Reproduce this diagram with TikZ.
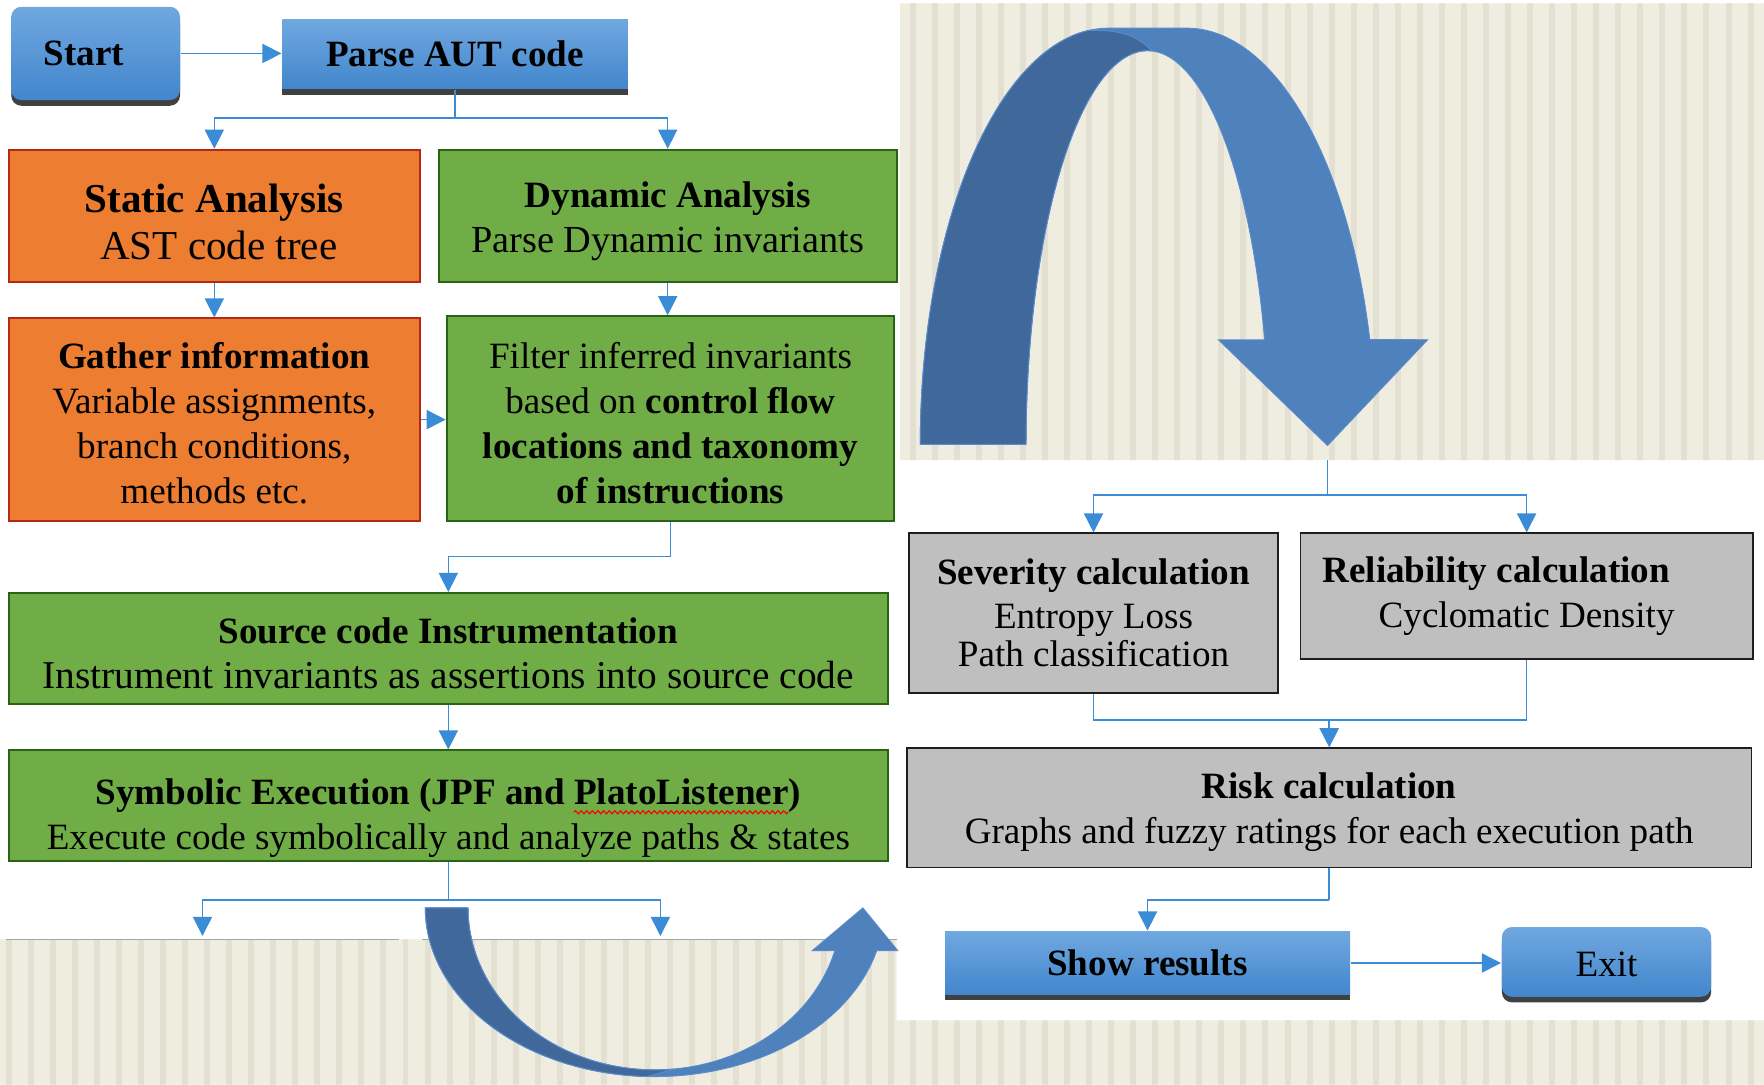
\documentclass[tikz,border=0pt]{standalone}
\usepackage{fontspec}
\setmainfont{Liberation Serif}
\usetikzlibrary{arrows.meta,shadows,decorations.pathmorphing,calc}

\definecolor{lnblue}{RGB}{58,140,214}
\definecolor{orgfill}{RGB}{237,125,49}
\definecolor{orgline}{RGB}{180,40,20}
\definecolor{grnfill}{RGB}{112,173,71}
\definecolor{grnline}{RGB}{40,100,20}
\definecolor{gryfill}{RGB}{191,191,191}
\definecolor{gryline}{RGB}{30,30,30}
\definecolor{bluetop}{RGB}{112,168,224}
\definecolor{bluebot}{RGB}{66,134,204}
\definecolor{arrdark}{RGB}{64,104,154}
\definecolor{arrlight}{RGB}{79,129,189}
\definecolor{arredge}{RGB}{90,140,205}
\definecolor{bgbeige}{RGB}{239,236,224}
\definecolor{bgstripe}{RGB}{227,224,209}

\newcommand{\tup}[1]{\rule{0pt}{#1pt}}

\begin{document}
\begin{tikzpicture}[x=1pt,y=-1pt,
  font=\fontsize{33}{40}\selectfont,
  line/.style={draw=lnblue,line width=1.4pt},
  conn/.style={line,-{Triangle[width=17pt,length=17pt]}},
  box/.style={align=center,inner sep=0pt,line width=1.6pt},
  orangebox/.style={box,draw=orgline,fill=orgfill},
  greenbox/.style={box,draw=grnline,fill=grnfill},
  graybox/.style={box,draw=gryline,fill=gryfill,line width=1.4pt},
  bluebox/.style={box,top color=bluetop,bottom color=bluebot,draw=none,
    drop shadow={shadow xshift=0pt,shadow yshift=-5pt,fill=black!75,opacity=1}},
  bigarrlight/.style={fill=arrlight,draw=arredge,line width=0.8pt},
  bigarrdark/.style={fill=arrdark,draw=arredge,line width=0.8pt}
  ]
\useasboundingbox (0,0) rectangle (1568,964);
\fill[white] (0,0) rectangle (1568,964);

% striped background regions
\begin{scope}
\clip (800,3) rectangle (1568,409) (0,835) rectangle (797,964) (795,907) rectangle (1568,964);
\fill[bgbeige] (0,0) rectangle (1568,964);
\foreach \i in {0,...,80} \fill[bgstripe] ({\i*19.6+5},0) rectangle ++(5.3,964);
\end{scope}
\draw[gray!70,line width=1.2pt] (5,835) -- (355,835) (375,835) -- (797,835);

% big curved arrow (top right)
\path[bigarrlight] plot[domain=180:90,samples=50] ({985+167*cos(\x)},{395-370*sin(\x)})
  -- plot[domain=90:14.6,samples=50] ({1055+168*cos(\x)},{395-370*sin(\x)})
  -- (1269,302) -- (1180,396) -- (1083,302)
  -- plot[domain=15.4:180,samples=60] ({1020+108*cos(\x)},{395-350*sin(\x)}) -- cycle;
\path[bigarrdark] plot[domain=180:96,samples=50] ({985+167*cos(\x)},{395-370*sin(\x)})
  .. controls (995,26) and (1012,32) .. ({1020+108*cos(88)},{395-350*sin(88)})
  -- plot[domain=88:180,samples=40] ({1020+108*cos(\x)},{395-350*sin(\x)}) -- cycle;

% big curved arrow (bottom)
\path[bigarrlight] plot[domain=180:14.7,samples=60] ({582+204*cos(\x)},{807+150*sin(\x)})
  -- (798,845) -- (767,807) -- (722,845)
  -- plot[domain=15.3:180,samples=60] ({582+166*cos(\x)},{807+144*sin(\x)}) -- cycle;
\path[bigarrdark] plot[domain=180:92,samples=40] ({582+204*cos(\x)},{807+150*sin(\x)})
  -- plot[domain=84:180,samples=40] ({582+166*cos(\x)},{807+144*sin(\x)}) -- cycle;

% nodes
\node[bluebox,rounded corners=9pt,minimum width=150pt,minimum height=83pt] (start) at (85,47.5) {\bfseries Start\hspace*{21pt}};
\node[bluebox,minimum width=307pt,minimum height=62pt] (parse) at (404.5,48) {\bfseries Parse AUT code};
\node[orangebox,minimum width=365pt,minimum height=118pt,font=\fontsize{36.5}{42}\selectfont] (static) at (190.5,192) {\tup{36}\bfseries Static Analysis\\AST code tree\hspace*{-8pt}};
\node[greenbox,minimum width=407pt,minimum height=118pt] (dynamic) at (593.5,192) {\tup{33}\bfseries Dynamic Analysis\\{\fontsize{34}{40}\selectfont Parse Dynamic invariants}};
\node[orangebox,minimum width=365pt,minimum height=180pt] (gather) at (190.5,373) {\tup{30}\bfseries Gather information\\Variable assignments,\\branch conditions,\\methods etc.};
\node[greenbox,minimum width=398pt,minimum height=182pt] (filter) at (596,372) {\tup{31}Filter inferred invariants\\based on \textbf{control flow}\\\textbf{locations and taxonomy}\\\textbf{of instructions}};
\node[greenbox,minimum width=781pt,minimum height=99pt] (source) at (398.5,576.5) {\tup{31}\bfseries Source code Instrumentation\\{\fontsize{35}{40}\selectfont Instrument invariants as assertions into source code}};
\node[greenbox,minimum width=781pt,minimum height=98pt] (symb) at (398.5,716) {\tup{46}\bfseries Symbolic Execution (JPF and PlatoListener)\\Execute code symbolically and analyze paths \& states};
\draw[red,line width=1pt,decorate,decoration={snake,amplitude=1.4pt,segment length=5pt}] (510,722) -- (701,722);

\node[graybox,minimum width=328pt,minimum height=142pt] (severity) at (972,545) {\bfseries Severity calculation\\[-1pt]Entropy Loss\\[-6pt]Path classification};
\node[graybox,minimum width=402pt,minimum height=112pt] (reliab) at (1357,530) {\bfseries Reliability calculation\hspace*{54pt}\\Cyclomatic Density};
\node[graybox,minimum width=751pt,minimum height=106pt] (risk) at (1181.5,718) {\tup{31}\bfseries Risk calculation\\Graphs and fuzzy ratings for each execution path};
\node[bluebox,minimum width=360pt,minimum height=56pt] (show) at (1020,856) {\bfseries Show results};
\node[bluebox,rounded corners=9pt,minimum width=186pt,minimum height=62pt] (exit) at (1428,855) {\tup{27}Exit};

% connectors
\draw[conn] (start.east) -- (start.east -| parse.west);
\coordinate (j1) at (404.5,105);
\draw[line] (parse.south) -- (j1);
\draw[conn] (j1) -| (static.north);
\draw[conn] (j1) -| (dynamic.north);
\draw[conn] (static) -- (gather);
\draw[conn] (dynamic.south) -- (dynamic.south |- filter.north);
\draw[conn] (gather.east) -- (gather.east -| filter.west);
\draw[conn] (filter.south) -- ++(0,31) -| (source.north);
\draw[conn] (source) -- (symb);
\coordinate (j5) at (398.5,800);
\coordinate (e1) at (180,832);
\coordinate (e2) at (587,832);
\draw[line] (symb.south) -- (j5);
\draw[conn] (j5) -| (e1);
\draw[conn] (j5) -| (e2);

\coordinate (rtop) at (1180,409);
\coordinate (j4) at (1180,440);
\draw[line] (rtop) -- (j4);
\draw[conn] (j4) -| (severity.north);
\draw[conn] (j4) -| (reliab.north);
\coordinate (j3) at (1181.5,640);
\draw[line] (severity.south) |- (j3) -| (reliab.south);
\draw[conn] (j3) -- (risk.north);
\coordinate (j6) at (1181.5,800);
\draw[line] (risk.south) -- (j6);
\draw[conn] (j6) -| (show.north);
\draw[conn] (show.east) -- (show.east -| exit.west);
\end{tikzpicture}
\end{document}
